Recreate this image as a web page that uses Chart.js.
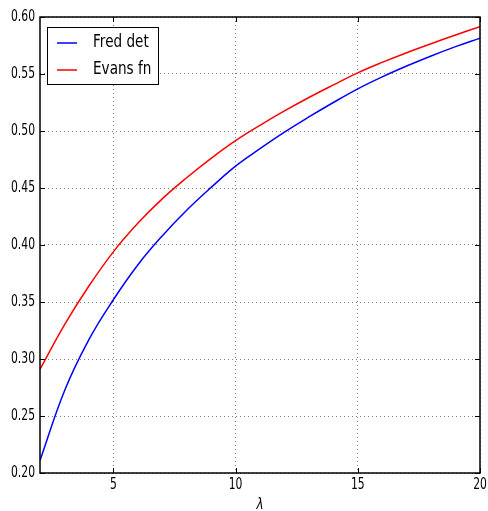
<!DOCTYPE html>
<html>
<head>
<meta charset="utf-8">
<script src="https://cdn.jsdelivr.net/npm/chart.js@4/dist/chart.umd.min.js"></script>
<style>
  html, body { margin: 0; padding: 0; background: #fff; }
  #plot { display: block; }
</style>
</head>
<body>
<canvas id="plot" width="488" height="511"></canvas>
<script>
/* Fred det vs Evans fn, as a function of lambda */

const lambdas  = [2, 3, 4, 5, 6, 7, 8, 9, 10, 11, 12, 13, 14, 15, 16, 17, 18, 19, 20];
const fredDet  = [0.211, 0.272, 0.317, 0.352, 0.3825, 0.408, 0.4305, 0.4505, 0.4692, 0.4845, 0.499, 0.5123, 0.525, 0.537, 0.5475, 0.557, 0.5658, 0.574, 0.5815];
const evansFn  = [0.291, 0.330, 0.364, 0.394, 0.419, 0.4405, 0.459, 0.476, 0.4915, 0.505, 0.5176, 0.5294, 0.5404, 0.551, 0.5602, 0.5687, 0.5766, 0.5842, 0.5915];
const seriesLabels = ['Fred det', 'Evans fn'];
const xTicks = [5, 10, 15, 20];
const yTicks = [0.20, 0.25, 0.30, 0.35, 0.40, 0.45, 0.50, 0.55, 0.60];
const xTitle = 'λ';

const FONT = "'DejaVu Sans', sans-serif";

const pts = ys => lambdas.map((x, i) => ({ x, y: ys[i] }));

// squeezed text, drawn with a horizontal scale factor
function squeezed(ctx, text, x, y, sx, align) {
  ctx.save();
  ctx.translate(x, y);
  ctx.scale(sx, 1);
  ctx.textAlign = align;
  ctx.fillText(text, 0, 0);
  ctx.restore();
}

// frame, inward tick marks and tick labels (classic matplotlib look)
const framePlugin = {
  id: 'frame',
  afterDatasetsDraw(chart) {
    const { ctx, chartArea: a, scales } = chart;
    const L = 5;
    ctx.save();
    ctx.strokeStyle = '#000';
    ctx.lineWidth = 1;
    ctx.beginPath();
    xTicks.forEach(v => {
      const px = Math.round(scales.x.getPixelForValue(v)) + 0.5;
      ctx.moveTo(px, a.bottom); ctx.lineTo(px, a.bottom - L);
      ctx.moveTo(px, a.top); ctx.lineTo(px, a.top + L);
    });
    yTicks.forEach(v => {
      const py = Math.round(scales.y.getPixelForValue(v)) + 0.5;
      ctx.moveTo(a.left, py); ctx.lineTo(a.left + L, py);
      ctx.moveTo(a.right, py); ctx.lineTo(a.right - L, py);
    });
    ctx.stroke();
    ctx.lineWidth = 1.5;
    ctx.strokeRect(a.left, a.top, a.right - a.left, a.bottom - a.top);

    ctx.fillStyle = '#000';
    ctx.font = '15px ' + FONT;
    ctx.textBaseline = 'middle';
    yTicks.forEach(v => {
      squeezed(ctx, v.toFixed(2), a.left - 5, scales.y.getPixelForValue(v) + 0.5, 0.72, 'right');
    });
    ctx.textBaseline = 'top';
    xTicks.forEach(v => {
      squeezed(ctx, String(v), scales.x.getPixelForValue(v), a.bottom + 5, 0.72, 'center');
    });
    ctx.font = 'italic 15px ' + FONT;
    ctx.textBaseline = 'middle';
    squeezed(ctx, xTitle, (a.left + a.right) / 2, a.bottom + 32, 0.8, 'center');
    ctx.restore();
  }
};

// boxed legend in the upper-left corner of the axes
const boxLegend = {
  id: 'boxLegend',
  afterDraw(chart) {
    const { ctx, chartArea: a } = chart;
    const x0 = a.left + 7, y0 = a.top + 10, w = 111, h = 57;
    ctx.save();
    ctx.fillStyle = '#fff';
    ctx.fillRect(x0, y0, w, h);
    ctx.strokeStyle = '#000';
    ctx.lineWidth = 1;
    ctx.strokeRect(x0 + 0.5, y0 + 0.5, w, h);
    ctx.font = '17px ' + FONT;
    ctx.textBaseline = 'middle';
    chart.data.datasets.forEach((ds, i) => {
      const cy = y0 + 16 + i * 27;
      ctx.strokeStyle = ds.borderColor;
      ctx.lineWidth = 1.5;
      ctx.beginPath();
      ctx.moveTo(x0 + 10, cy); ctx.lineTo(x0 + 30, cy);
      ctx.stroke();
      ctx.fillStyle = '#000';
      squeezed(ctx, ds.label, x0 + 46, cy, 0.8, 'left');
    });
    ctx.restore();
  }
};

const gridCfg = { color: 'rgba(0,0,0,0.5)', lineWidth: 1, drawTicks: false };

new Chart(document.getElementById('plot'), {
  type: 'line',
  data: {
    datasets: [
      { label: seriesLabels[0], data: pts(fredDet), borderColor: '#0000ff', borderWidth: 1.5, pointRadius: 0, tension: 0.4, fill: false },
      { label: seriesLabels[1], data: pts(evansFn), borderColor: '#ff0000', borderWidth: 1.5, pointRadius: 0, tension: 0.4, fill: false }
    ]
  },
  options: {
    responsive: false, animation: false, devicePixelRatio: 1,
    layout: { padding: { top: 17, right: 8, left: 0, bottom: 0 } },
    plugins: { legend: { display: false }, tooltip: { enabled: false } },
    scales: {
      x: {
        type: 'linear', min: 2, max: 20,
        afterBuildTicks: s => { s.ticks = xTicks.map(value => ({ value })); },
        afterFit: s => { s.height = 38; },
        grid: gridCfg, border: { display: false, dash: [1, 3] },
        ticks: { display: false }
      },
      y: {
        type: 'linear', min: 0.2, max: 0.6,
        afterBuildTicks: s => { s.ticks = yTicks.map(value => ({ value })); },
        afterFit: s => { s.width = 40; },
        grid: gridCfg, border: { display: false, dash: [1, 3] },
        ticks: { display: false }
      }
    }
  },
  plugins: [framePlugin, boxLegend]
});
</script>
</body>
</html>
